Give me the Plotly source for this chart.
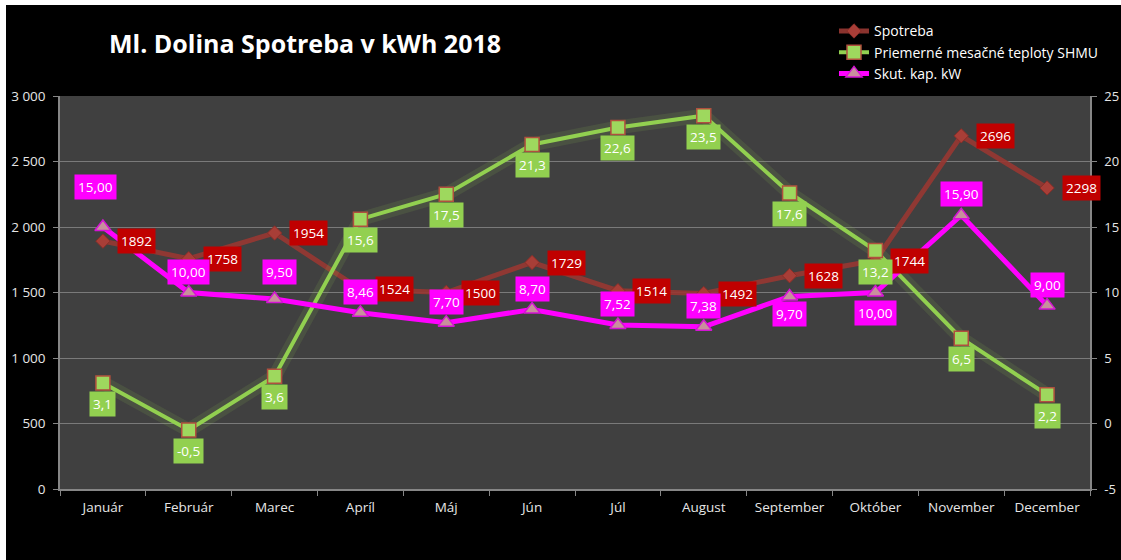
import plotly.graph_objects as go

# ---------------- data ----------------
months = ["Január", "Február", "Marec", "Apríl", "Máj", "Jún", "Júl",
          "August", "September", "Október", "November", "December"]
spotreba = [1892, 1758, 1954, 1524, 1500, 1729, 1514, 1492, 1628, 1744, 2696, 2298]
teploty = [3.1, -0.5, 3.6, 15.6, 17.5, 21.3, 22.6, 23.5, 17.6, 13.2, 6.5, 2.2]
kap_kw = [15.00, 10.00, 9.50, 8.46, 7.70, 8.70, 7.52, 7.38, 9.70, 10.00, 15.90, 9.00]

left_ticks = [0, 500, 1000, 1500, 2000, 2500, 3000]
left_tick_labels = ["0", "500", "1 000", "1 500", "2 000", "2 500", "3 000"]
right_ticks = [-5, 0, 5, 10, 15, 20, 25]
right_tick_labels = ["-5", "0", "5", "10", "15", "20", "25"]

title_text = "Ml. Dolina Spotreba v kWh 2018"
name_spotreba = "Spotreba"
name_teploty = "Priemerné mesačné teploty SHMU"
name_kap = "Skut. kap. kW"

# ---------------- style ----------------
FONT = "Open Sans"
RED_LINE = "rgba(150,55,50,0.92)"
RED_MARK = "#A83E37"
RED_BOX = "#C00000"
GREEN = "#92D050"
MAGENTA = "#FF00FF"
AXIS = "#868686"
GRID = "#7A7A7A"
TICKFONT = dict(family=FONT, size=13.5, color="#E6E6E6")
RTICKFONT = dict(family=FONT, size=13, color="#E6E6E6")
LABELFONT = dict(family=FONT, size=13.5, color="white")

# label offsets (pixels) for the kW labels: (xshift, yshift)
kap_offsets = [(-7, 40), (0, 21), (5, 27), (0, 21), (0, 21), (0, 21), (0, 21),
               (0, 21), (0, -18), (0, -20), (0, 21), (0, 21)]

fig = go.Figure()

# soft glow under the green line
fig.add_trace(go.Scatter(
    x=months, y=teploty, yaxis="y2", mode="lines",
    line=dict(color="rgba(146,208,80,0.12)", width=14),
    showlegend=False, hoverinfo="skip"))

fig.add_trace(go.Scatter(
    x=months, y=spotreba, name=name_spotreba, mode="lines+markers",
    line=dict(color=RED_LINE, width=5),
    marker=dict(symbol="diamond", size=11, color=RED_MARK,
                line=dict(color="#8A2E28", width=1))))

fig.add_trace(go.Scatter(
    x=months, y=teploty, name=name_teploty, yaxis="y2", mode="lines+markers",
    line=dict(color=GREEN, width=4),
    marker=dict(symbol="square", size=14, color="#9ED85E",
                line=dict(color="#B0503E", width=1.5))))

fig.add_trace(go.Scatter(
    x=months, y=kap_kw, name=name_kap, yaxis="y2", mode="lines+markers",
    line=dict(color=MAGENTA, width=5),
    marker=dict(symbol="triangle-up", size=14, color="#C8909C",
                line=dict(color="#D414D4", width=1.5))))

annotations = []
for m, v in zip(months, spotreba):
    annotations.append(dict(
        x=m, y=v, xref="x", yref="y", text=f"{v}", showarrow=False,
        xshift=34, yshift=0, bgcolor=RED_BOX, borderpad=3, font=LABELFONT))
for m, v in zip(months, teploty):
    annotations.append(dict(
        x=m, y=v, xref="x", yref="y2", text=f"{v:.1f}".replace(".", ","),
        showarrow=False, xshift=0, yshift=-21, bgcolor=GREEN, borderpad=3,
        font=LABELFONT))
for (m, v), (dx, dy) in zip(zip(months, kap_kw), kap_offsets):
    annotations.append(dict(
        x=m, y=v, xref="x", yref="y2", text=f"{v:.2f}".replace(".", ","),
        showarrow=False, xshift=dx, yshift=dy, bgcolor=MAGENTA, borderpad=3,
        font=LABELFONT))

annotations.append(dict(
    x=0.046, y=1.135, xref="paper", yref="paper", xanchor="left",
    yanchor="middle", text=f"<b>{title_text}</b>", showarrow=False,
    font=dict(family=FONT, size=25, color="white")))

fig.update_layout(
    width=1115, height=555,
    margin=dict(l=54, r=31, t=91, b=71, autoexpand=False),
    paper_bgcolor="black", plot_bgcolor="#404040",
    separators=", ",
    showlegend=True,
    legend=dict(x=0.7426, y=0.9813, xref="container", yref="container",
                xanchor="left", yanchor="top",
                bgcolor="rgba(0,0,0,0)", tracegroupgap=0,
                font=dict(family=FONT, size=14, color="white")),
    xaxis=dict(type="category", range=[-0.5, 11.5], tickson="boundaries",
               ticks="outside", ticklen=5, tickcolor=AXIS, showline=True,
               linecolor=AXIS, linewidth=1.5, showgrid=False, tickfont=TICKFONT,
               ticklabelstandoff=5, automargin=False),
    yaxis=dict(range=[0, 3000], tickvals=left_ticks, ticktext=left_tick_labels,
               ticks="outside", ticklen=5, tickcolor=AXIS, showline=True,
               linecolor=AXIS, linewidth=1.5, gridcolor=GRID, gridwidth=1,
               zeroline=False, tickfont=TICKFONT, ticklabelstandoff=5,
               automargin=False),
    yaxis2=dict(range=[-5, 25], tickvals=right_ticks, ticktext=right_tick_labels,
                overlaying="y", side="right", ticks="outside", ticklen=5,
                tickcolor=AXIS, showline=True, linecolor=AXIS, linewidth=1.5,
                showgrid=False, zeroline=False, tickfont=RTICKFONT,
                ticklabelstandoff=5, automargin=False),
    annotations=annotations,
)

fig.write_html(
    "out.html",
    post_script="document.body.style.margin='5px 0 0 6px';"
                "document.body.style.overflow='hidden';",
)
